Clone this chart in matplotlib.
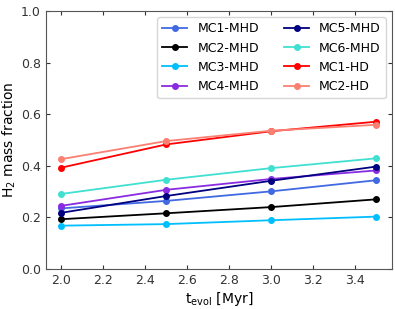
import numpy as np
import matplotlib
matplotlib.use('Agg')
import matplotlib.pyplot as plt

t_evol = [2.0, 2.5, 3.0, 3.5]

labels = ['MC1-MHD', 'MC2-MHD', 'MC3-MHD', 'MC4-MHD',
          'MC5-MHD', 'MC6-MHD', 'MC1-HD', 'MC2-HD']
colors = ['royalblue', 'black', 'deepskyblue', 'blueviolet',
          'navy', 'turquoise', 'red', 'salmon']

mc1_mhd = [0.235, 0.264, 0.301, 0.344]
mc2_mhd = [0.193, 0.216, 0.240, 0.270]
mc3_mhd = [0.168, 0.174, 0.189, 0.203]
mc4_mhd = [0.245, 0.307, 0.349, 0.382]
mc5_mhd = [0.218, 0.283, 0.342, 0.397]
mc6_mhd = [0.291, 0.346, 0.391, 0.429]
mc1_hd = [0.393, 0.483, 0.534, 0.571]
mc2_hd = [0.426, 0.496, 0.536, 0.559]

series = [mc1_mhd, mc2_mhd, mc3_mhd, mc4_mhd, mc5_mhd, mc6_mhd, mc1_hd, mc2_hd]

fig = plt.figure(figsize=(3.95, 3.09), dpi=100)
ax = fig.add_axes([45.7 / 395, 1 - 269 / 309, (392 - 45.7) / 395, (269 - 11) / 309])

for vals, lab, col in zip(series, labels, colors):
    ax.plot(t_evol, vals, '-o', color=col, label=lab, markersize=4, linewidth=1.3)

ax.set_ylim(0, 1.0)
ax.set_xticks(np.arange(2.0, 3.41, 0.2))
ax.set_xlabel(r'$\mathrm{t_{evol}}$ [Myr]', fontsize=10, labelpad=2)
ax.set_ylabel(r'H$_2$ mass fraction', fontsize=10, labelpad=2)
ax.tick_params(direction='in', top=True, right=True, length=3, labelsize=9, colors='#333333')
for sp in ax.spines.values():
    sp.set_color('#555555')

ax.legend(ncol=2, loc='upper right', fontsize=9)

fig.savefig('out.png', dpi=100)
